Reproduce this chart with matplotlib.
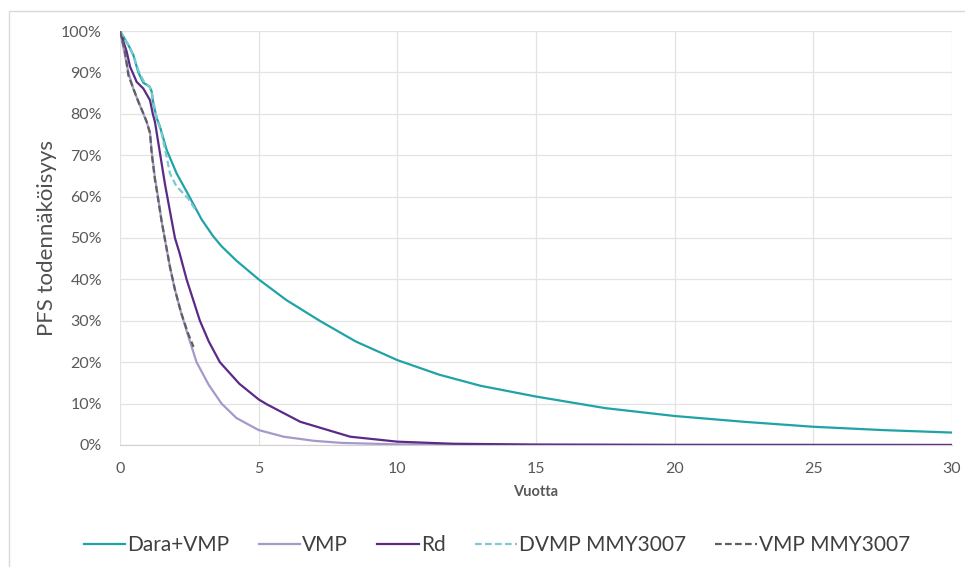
import matplotlib.pyplot as plt
from matplotlib.patches import Rectangle
from matplotlib.ticker import FuncFormatter

plt.rcParams['font.family'] = ['Lato', 'DejaVu Sans']

# survival curves: years vs PFS %
dara_x = [0, 0.3, 0.48, 0.66, 0.84, 1.06, 1.14, 1.2, 1.32, 1.44, 1.68, 2.04, 2.46, 2.94, 3.35,
          3.66, 4.2, 5.0, 6.0, 7.2, 8.5, 10, 11.5, 13, 15, 17.5, 20, 22.5, 25, 27.5, 30]
dara_y = [100, 96.6, 94.2, 90, 87.5, 86.6, 85.4, 82.5, 79, 76.9, 71.3, 65.6, 60.5, 54.5, 50.5,
          48, 44.5, 40, 35, 30, 25, 20.5, 17, 14.3, 11.7, 8.9, 7, 5.6, 4.4, 3.6, 3.0]

vmp_x = [0, 0.15, 0.3, 0.48, 0.66, 0.84, 0.96, 1.08, 1.14, 1.26, 1.38, 1.5, 1.8, 1.98, 2.2,
         2.45, 2.76, 3.2, 3.66, 4.2, 5.0, 5.9, 7.0, 8.0, 10, 15, 30]
vmp_y = [100, 95, 90, 86, 83, 80, 78, 75.5, 71, 64.5, 59.5, 54, 43, 37.5, 32,
         26.5, 20, 14.5, 10, 6.5, 3.6, 2.0, 1.0, 0.5, 0.15, 0.03, 0]

rd_x = [0, 0.24, 0.36, 0.6, 0.84, 1.08, 1.18, 1.26, 1.44, 1.62, 1.86, 1.98, 2.14, 2.4, 2.88,
        3.2, 3.6, 4.3, 5.0, 5.3, 6.5, 8.3, 10, 12, 15, 20, 30]
rd_y = [100, 95, 91.4, 87.7, 86.1, 83.3, 80, 78, 70.5, 63, 54.3, 50, 46.5, 40, 30,
        25, 20, 14.8, 11, 9.8, 5.6, 2, 0.8, 0.3, 0.1, 0.02, 0]

dvmp_x = [0, 0.3, 0.48, 0.66, 0.84, 1.06, 1.14, 1.2, 1.32, 1.5, 1.68, 1.8, 2.04, 2.28, 2.46, 2.7]
dvmp_y = [100, 96.6, 94, 90.5, 88, 86.5, 85.5, 83, 79, 75.3, 69.6, 65.6, 62.4, 60.8, 59.5, 57]

vmp_trial_x = [0, 0.18, 0.3, 0.48, 0.66, 0.84, 0.96, 1.08, 1.14, 1.26, 1.32, 1.5, 1.8, 1.98,
               2.2, 2.45, 2.65]
vmp_trial_y = [100, 95, 89.3, 86.1, 82.9, 80.1, 78.1, 75.3, 70.5, 64, 61.6, 54, 43, 37.5,
               32, 27, 23.7]

fig = plt.figure(figsize=(9.65, 5.67), dpi=100)
fig.patches.append(Rectangle((9 / 965, -0.01), 1.0, 1 - 11 / 567 + 0.01, transform=fig.transFigure,
                             fill=False, edgecolor='#D9D9D9', linewidth=1))
ax = fig.add_axes([0.1244, 0.2152, 0.8621, 0.7301])

ax.plot(dara_x, dara_y, color='#1FA3A6', lw=1.6, label='Dara+VMP')
ax.plot(vmp_x, vmp_y, color='#A798CA', lw=1.6, label='VMP')
ax.plot(rd_x, rd_y, color='#5B2A86', lw=1.6, label='Rd')
ax.plot(dvmp_x, dvmp_y, color='#7DC8D2', lw=1.6, ls=(0, (3, 1.5)), label='DVMP MMY3007')
ax.plot(vmp_trial_x, vmp_trial_y, color='#5F5F5F', lw=1.6, ls=(0, (3, 1.5)), label='VMP MMY3007')

ax.set_xlim(0, 30)
ax.set_ylim(0, 100)
ax.set_xticks(range(0, 31, 5))
ax.set_yticks(range(0, 101, 10))
ax.yaxis.set_major_formatter(FuncFormatter(lambda v, p: f'{int(v)}%'))
ax.tick_params(length=0, labelsize=11.5, colors='#595959')
ax.tick_params(axis='x', pad=12)
ax.tick_params(axis='y', pad=13)
ax.grid(color='#E3E3E3', lw=0.9)
ax.set_axisbelow(True)
for s in ['top', 'right', 'left']:
    ax.spines[s].set_visible(False)
ax.spines['bottom'].set_color('#D0D0D0')

ax.set_xlabel('Vuotta', fontsize=10.5, fontweight='bold', color='#595959', labelpad=7)
ax.set_ylabel('PFS todennäköisyys', fontsize=16, color='#505050', labelpad=3)

ax.legend(loc='center', bbox_to_anchor=(0.453, -0.2415), ncol=5, frameon=False,
          fontsize=15, handlelength=2.0, handletextpad=0.1, columnspacing=1.4,
          labelcolor='#404040')

fig.savefig('out.png', dpi=100)
